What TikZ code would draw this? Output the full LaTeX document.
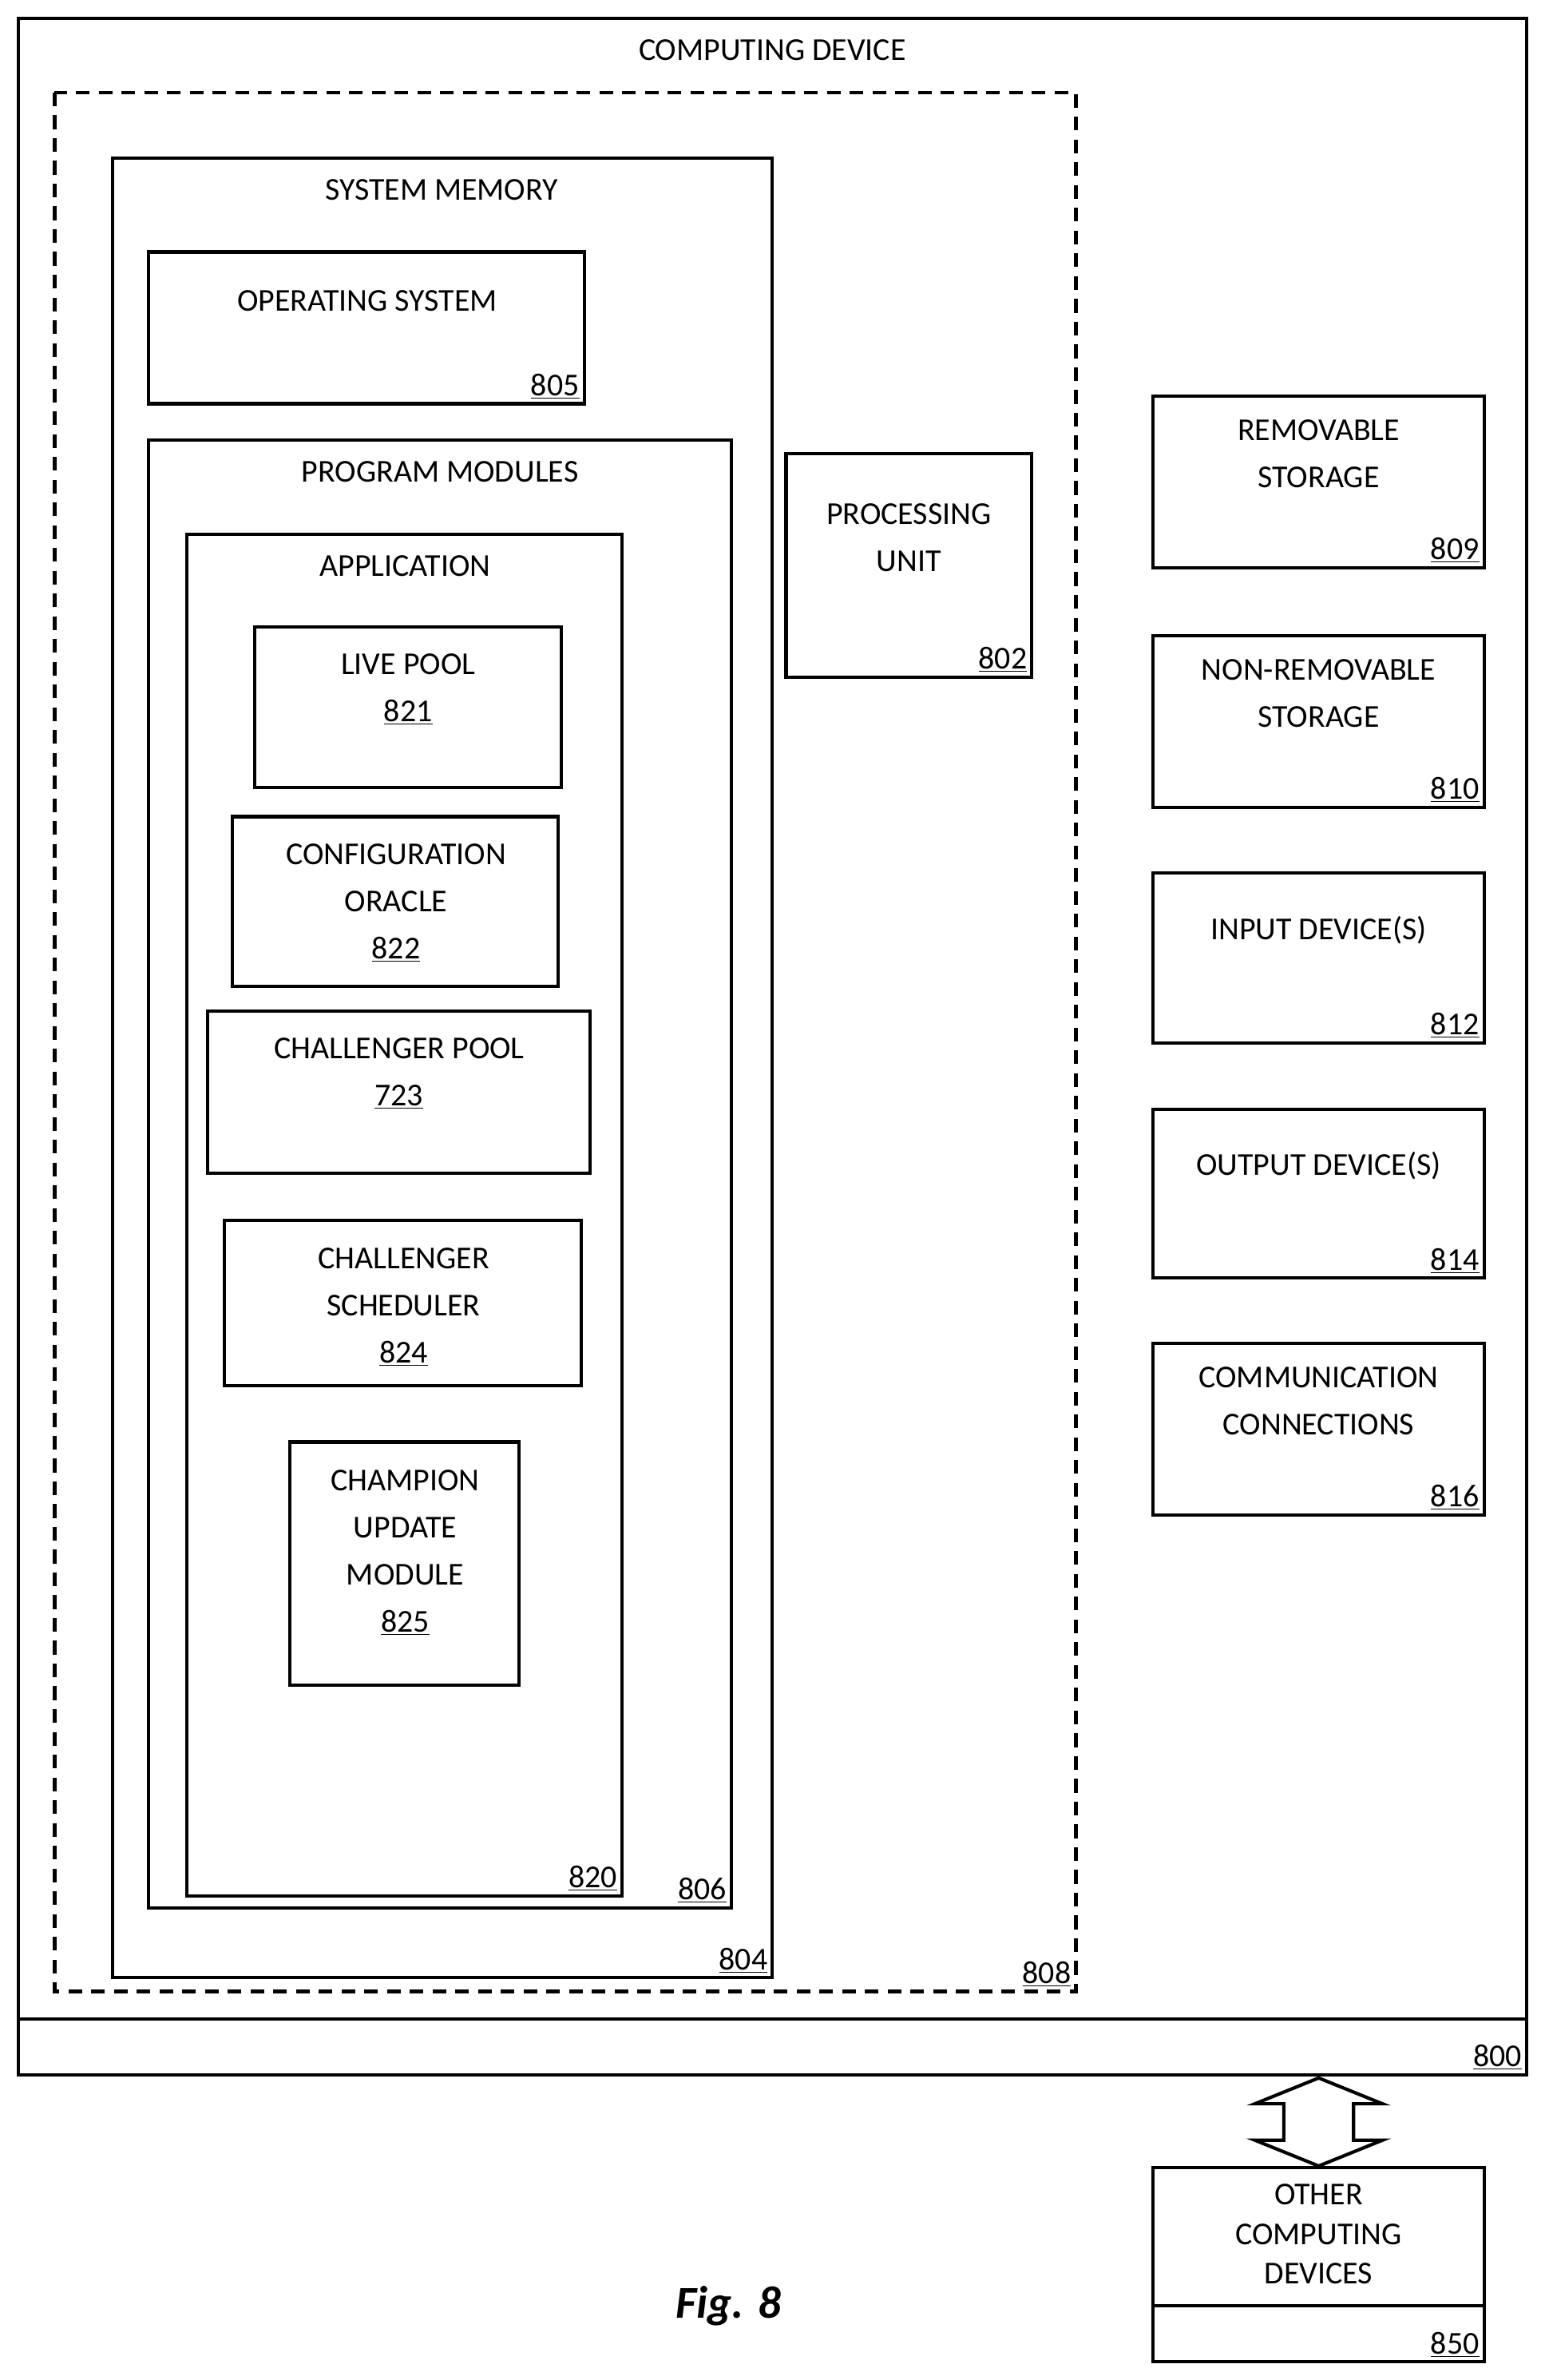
\documentclass[tikz,border=0pt]{standalone}
\usepackage{fontspec}
\setmainfont{Carlito}
\begin{document}
\begin{tikzpicture}[x=1pt,y=-1pt,
 box/.style={draw,line width=2.2pt},
 t/.style={font=\fontsize{21}{31}\selectfont,align=center,inner sep=0pt},
 num/.style={font=\fontsize{21}{25}\selectfont,inner sep=3pt,anchor=south east}]
\useasboundingbox (0,0) rectangle (1018,1568);
\newcommand\bx[6]{% name, x1,y1,x2,y2, number
 \draw[box] (#2,#3) rectangle (#4,#5);
 \node[num] (#1n) at (#4,#5) {\underline{#6}};}
% outer
\bx{dev}{12}{12}{1006}{1367}{800}
\draw[box] (12,1330) -- (1006,1330);
\node[t] (devt) at (509,33) {COMPUTING DEVICE};
% dashed
\draw[line width=2.2pt,dash pattern=on 9pt off 6pt] (36,61) rectangle (709,1312);
\node[num] (dn) at (709,1312) {\underline{808}};
\bx{sm}{74}{104}{509}{1303}{804}
\node[t] (smt) at (291,125) {SYSTEM MEMORY};
\bx{os}{98}{166}{385}{266}{805}
\node[t] (ost) at (242,198) {OPERATING SYSTEM};
\bx{pm}{98}{290}{482}{1257}{806}
\node[t] (pmt) at (290,311) {PROGRAM MODULES};
\bx{app}{123}{352}{410}{1249}{820}
\node[t] (appt) at (267,373) {APPLICATION};
\draw[box] (168,413) rectangle (370,519);
\node[t] (lp) at (269,454) {LIVE POOL\\\underline{821}};
\draw[box] (153,538) rectangle (368,650);
\node[t] (co) at (261,595) {CONFIGURATION\\ORACLE\\\underline{822}};
\draw[box] (137,666) rectangle (389,773);
\node[t] (cp) at (263,707) {CHALLENGER POOL\\\underline{723}};
\draw[box] (148,804) rectangle (383,913);
\node[t] (cs) at (266,861) {CHALLENGER\\SCHEDULER\\\underline{824}};
\draw[box] (191,950) rectangle (342,1110);
\node[t] (cu) at (267,1023) {CHAMPION\\UPDATE\\MODULE\\\underline{825}};
\bx{pu}{518}{299}{680}{446}{802}
\node[t] (put) at (599,354) {PROCESSING\\UNIT};
\bx{rs}{760}{261}{978}{374}{809}
\node[t] (rst) at (869,299) {REMOVABLE\\STORAGE};
\bx{nrs}{760}{419}{978}{532}{810}
\node[t] (nrst) at (869,457) {NON-REMOVABLE\\STORAGE};
\bx{in}{760}{575}{978}{687}{812}
\node[t] (int) at (869,613) {INPUT DEVICE(S)};
\bx{out}{760}{731}{978}{842}{814}
\node[t] (outt) at (869,768) {OUTPUT DEVICE(S)};
\bx{cc}{760}{885}{978}{998}{816}
\node[t] (cct) at (869,923) {COMMUNICATION\\CONNECTIONS};
\bx{oc}{760}{1428}{978}{1556}{850}
\draw[box] (760,1519) -- (978,1519);
\node[t,font=\fontsize{21}{26}\selectfont] (oct) at (869,1472) {OTHER\\COMPUTING\\DEVICES};
\draw[line width=2.2pt,line join=miter] (869,1369) -- (911,1386) -- (892,1386) -- (892,1410) -- (911,1410) -- (869,1427) -- (827,1410) -- (846,1410) -- (846,1386) -- (827,1386) -- cycle;
\node[font=\fontsize{30}{36}\selectfont\bfseries\itshape] (fig) at (480,1519) {Fig. 8};
\end{tikzpicture}
\end{document}
